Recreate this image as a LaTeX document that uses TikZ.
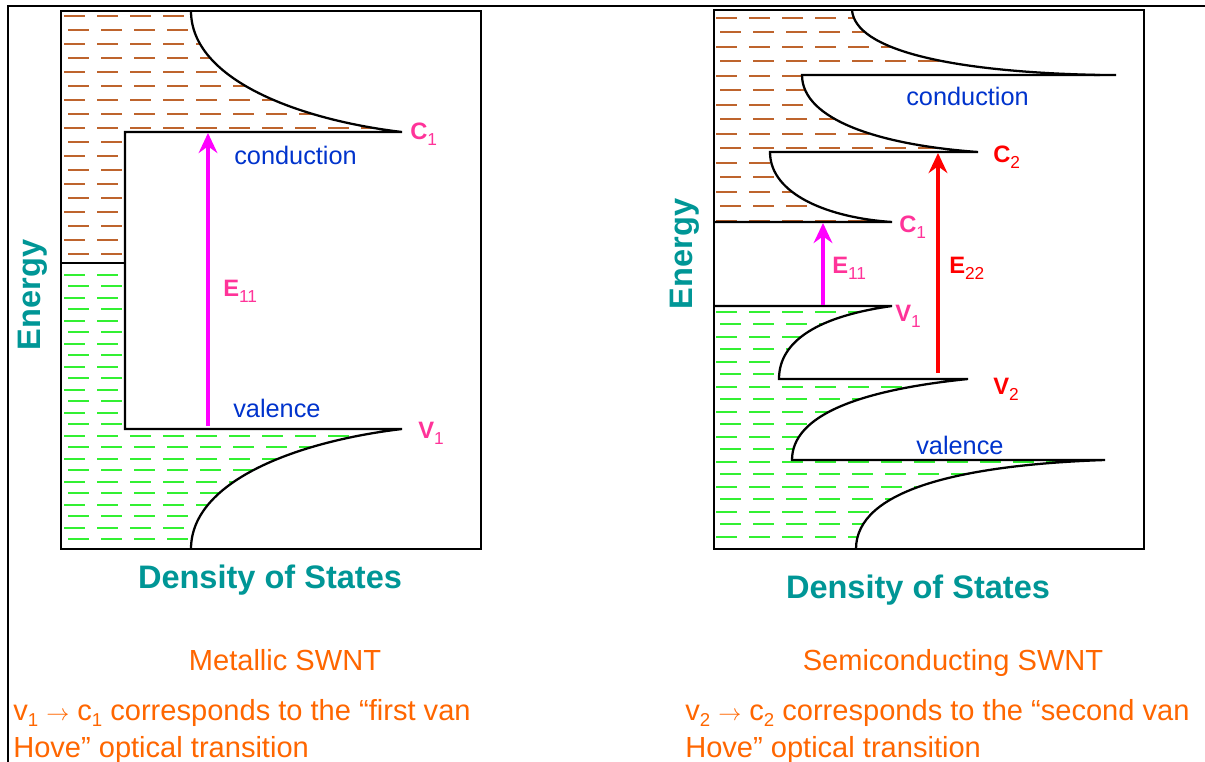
\documentclass[tikz,border=0pt]{standalone}
\usepackage{fontspec}
\setmainfont{Liberation Sans}
\usetikzlibrary{arrows.meta}
\definecolor{myteal}{RGB}{0,150,150}
\definecolor{myblue}{RGB}{0,51,204}
\definecolor{mypink}{RGB}{255,51,153}
\definecolor{mymag}{RGB}{255,0,255}
\definecolor{myred}{RGB}{255,0,0}
\definecolor{mybrown}{RGB}{190,100,45}
\definecolor{mygreen}{RGB}{50,240,50}
\definecolor{myorange}{RGB}{255,102,0}
\newcommand{\lblsub}[1]{\raisebox{-4.5pt}{\fontsize{13}{13}\selectfont\mdseries #1}}
\newcommand{\notesub}[1]{\raisebox{-5pt}{\fontsize{14}{14}\selectfont #1}}
\newcommand{\notearrow}{{\fontsize{17}{17}\selectfont$\rightarrow$}}
\tikzset{
  band/.style={line width=1.7pt, black},
  boxst/.style={line width=1.7pt, black},
  framest/.style={line width=1.5pt, black},
  bdash/.style={mybrown, line width=1.1pt, dash pattern=on 15.75pt off 9pt},
  gdash/.style={mygreen, line width=1.1pt, dash pattern=on 15.75pt off 9pt},
  axislbl/.style={text=myteal, font=\fontsize{24.4}{28}\selectfont\bfseries, inner sep=0},
  bandlbl/.style={text=myblue, font=\fontsize{19}{22}\selectfont, inner sep=0, anchor=base west},
  ptlbl/.style={font=\fontsize{17.8}{20}\selectfont\bfseries, inner sep=0, anchor=base west},
  caption/.style={text=myorange, font=\fontsize{21.8}{26}\selectfont, inner sep=0, anchor=base},
  note/.style={text=myorange, font=\fontsize{21.8}{26}\selectfont, inner sep=0, anchor=base west},
  trans/.style={-{Stealth[length=15pt,width=14pt,inset=5pt]}},
}
\begin{document}
\begin{tikzpicture}[x=0.75pt,y=-0.75pt]
\useasboundingbox (0,0) rectangle (1205,762);
% outer frame
\draw[framest] (8,762) -- (8,6) -- (1205,6);

% ---------- Left panel: metallic ----------
\begin{scope}
  \clip (61,11) -- (191,11) .. controls (191,80) and (300,120) .. (402,132) -- (125,132) -- (125,263) -- (61,263) -- cycle;
  \foreach \y in {16,44,...,262} \draw[bdash] (64,\y) -- (480,\y);
  \foreach \y in {30,58,...,262} \draw[bdash] (68,\y) -- (480,\y);
\end{scope}
\begin{scope}
  \clip (61,263) -- (125,263) -- (125,429) -- (402,429) .. controls (300,441) and (191,480) .. (191,549) -- (61,549) -- cycle;
  \foreach \y in {275,298,...,548} \draw[gdash] (64,\y) -- (480,\y);
  \foreach \y in {286,309,...,548} \draw[gdash] (68,\y) -- (480,\y);
\end{scope}
\draw[band] (191,11) .. controls (191,80) and (300,120) .. (402,132) -- (125,132) -- (125,429) -- (402,429) .. controls (300,441) and (191,480) .. (191,549);
\draw[band] (61,263) -- (125,263);
\draw[boxst] (61,11) rectangle (481,549);

\coordinate (lvs) at (208,426);
\coordinate (lce) at (208,133);
\draw[trans, mymag, line width=2.4pt] (lvs) -- (lce);

\node[ptlbl, text=mypink] (lC1) at (410,140) {C\lblsub{1}};
\node[ptlbl, text=mypink] (lV1) at (418,438) {V\lblsub{1}};
\node[ptlbl, text=mypink] (lE11) at (223,297) {E\lblsub{11}};
\node[bandlbl] (lcond) at (234,165) {conduction};
\node[bandlbl] (lval) at (233,417) {valence};
\node[axislbl, rotate=90] (lenergy) at (33,295) {Energy};
\node[axislbl, anchor=base] (ldos) at (270,588) {Density of States};

% ---------- Right panel: semiconducting ----------
\begin{scope}
  \clip (714,10) -- (852,10) .. controls (855,50) and (950,72) .. (1100,75) -- (802,75) .. controls (802,120) and (880,145) .. (978,152) -- (770,152) .. controls (770,195) and (830,218) .. (892,222) -- (714,222) -- cycle;
  \foreach \y in {18,47,...,222} \draw[bdash] (716,\y) -- (1140,\y);
  \foreach \y in {32,61,...,222} \draw[bdash] (720,\y) -- (1140,\y);
\end{scope}
\begin{scope}
  \clip (714,306) -- (892,306) .. controls (820,316) and (779,340) .. (779,379) -- (968,379) .. controls (860,390) and (792,415) .. (792,460) -- (1105,460) .. controls (960,465) and (856,490) .. (856,549) -- (714,549) -- cycle;
  \foreach \y in {312,337,...,548} \draw[gdash] (716,\y) -- (1140,\y);
  \foreach \y in {324,349,...,548} \draw[gdash] (720,\y) -- (1140,\y);
\end{scope}
\draw[band] (852,10) .. controls (855,50) and (950,72) .. (1100,75);
\draw[band] (1116,75) -- (802,75) .. controls (802,120) and (880,145) .. (978,152) -- (770,152) .. controls (770,195) and (830,218) .. (892,222) -- (714,222);
\draw[band] (714,306) -- (892,306) .. controls (820,316) and (779,340) .. (779,379) -- (968,379) .. controls (860,390) and (792,415) .. (792,460) -- (1105,460) .. controls (960,465) and (856,490) .. (856,549);
\draw[boxst] (714,10) rectangle (1144,549);

\coordinate (rv1) at (823,305);
\coordinate (rc1) at (823,223);
\coordinate (rv2) at (938,373);
\coordinate (rc2) at (938,153);
\draw[trans, mymag, line width=2.4pt] (rv1) -- (rc1);
\draw[trans, myred, line width=3pt] (rv2) -- (rc2);

\node[ptlbl, text=myred] (rC2) at (993,163) {C\lblsub{2}};
\node[ptlbl, text=mypink] (rC1) at (899,233) {C\lblsub{1}};
\node[ptlbl, text=mypink] (rE11) at (832,274) {E\lblsub{11}};
\node[ptlbl, text=myred] (rE22) at (949,274) {E\lblsub{22}};
\node[ptlbl, text=mypink] (rV1) at (895,322) {V\lblsub{1}};
\node[ptlbl, text=myred] (rV2) at (993,395) {V\lblsub{2}};
\node[bandlbl] (rcond) at (906,106) {conduction};
\node[bandlbl] (rval) at (916,454) {valence};
\node[axislbl, rotate=90] (renergy) at (685,254) {Energy};
\node[axislbl, anchor=base] (rdos) at (918,598) {Density of States};

% ---------- captions ----------
\node[caption] (lcap) at (285,670) {Metallic SWNT};
\node[caption] (rcap) at (953,670) {Semiconducting SWNT};
\node[note] (lnote1) at (13,720) {v\notesub{1} \notearrow{} c\notesub{1} corresponds to the “first van};
\node[note] (lnote2) at (13,757) {Hove” optical transition};
\node[note] (rnote1) at (685,720) {v\notesub{2} \notearrow{} c\notesub{2} corresponds to the “second van};
\node[note] (rnote2) at (685,757) {Hove” optical transition};
\end{tikzpicture}
\end{document}
